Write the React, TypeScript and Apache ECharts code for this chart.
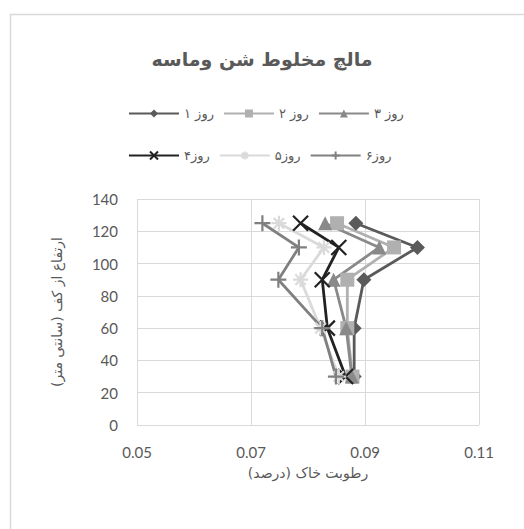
import React, { useEffect, useRef } from "react";
import * as echarts from "echarts";

const heights = [125, 110, 90, 60, 30];
const day1 = [0.0884, 0.0992, 0.0898, 0.0881, 0.0881];
const day2 = [0.0851, 0.0951, 0.0869, 0.0869, 0.0878];
const day3 = [0.083, 0.0925, 0.0845, 0.0867, 0.0877];
const day4 = [0.0787, 0.0854, 0.0825, 0.0834, 0.0866];
const day5 = [0.0749, 0.0828, 0.0787, 0.0822, 0.0854];
const day6 = [0.072, 0.0784, 0.0748, 0.0825, 0.0849];
const seriesNames = ["روز ۱", "روز ۲", "روز ۳", "روز۴", "روز۵", "روز۶"];
const seriesValues = [day1, day2, day3, day4, day5, day6];
const colors = ["#5a5a5a", "#b0b0b0", "#898989", "#222222", "#dadada", "#808080"];
const symbols = [
  "diamond",
  "rect",
  "triangle",
  "path://M0,0L10,10M10,0L0,10",
  "path://M5,0L5,10M0,5L10,5M1.5,1.5L8.5,8.5M8.5,1.5L1.5,8.5",
  "path://M5,0L5,10M0,5L10,5",
];
const symbolSizes = [15, 14, 14, 15, 15, 16];
const titleText = "مالچ مخلوط شن وماسه";
const xName = "رطوبت خاک (درصد)";
const yName = "ارتفاع از کف (سانتی متر)";

export default function App() {
  const ref = useRef<HTMLDivElement>(null);
  useEffect(() => {
    if (!ref.current) return;
    const chart = echarts.init(ref.current, null, { renderer: "svg" });
    const txt = "#595959";
    const series = seriesNames.map((name, i) => {
      const isPath = i >= 3;
      return {
        name,
        type: "line",
        data: seriesValues[i].map((v, j) => [v, heights[j]]),
        symbol: symbols[i],
        symbolSize: symbolSizes[i],
        lineStyle: { color: colors[i], width: 2.8 },
        itemStyle: isPath
          ? { color: colors[i], borderColor: colors[i], borderWidth: 2.2 }
          : { color: colors[i], borderWidth: 0 },
        emphasis: { disabled: true },
      };
    });
    chart.setOption({
      animation: false,
      backgroundColor: "#ffffff",
      title: {
        text: titleText,
        left: "center",
        top: 44,
        textStyle: {
          fontFamily: "DejaVu Sans",
          fontSize: 19,
          fontWeight: "bold",
          color: txt,
        },
      },
      graphic: [
        {
          type: "rect",
          shape: { x: 10.5, y: 14.5, width: 700, height: 700 },
          style: { fill: "none", stroke: "#d9d9d9", lineWidth: 1.5 },
          silent: true,
        },
      ],
      legend: [
        {
          data: seriesNames.slice(0, 3),
          left: 123,
          top: 102,
          itemWidth: 50,
          itemHeight: 10,
          itemGap: 9,
          textStyle: { fontFamily: "DejaVu Sans", fontSize: 13, color: txt },
        },
        {
          data: seriesNames.slice(3),
          left: 123,
          top: 144,
          itemWidth: 50,
          itemHeight: 10,
          itemGap: 9,
          textStyle: { fontFamily: "DejaVu Sans", fontSize: 13, color: txt },
        },
      ],
      grid: { left: 137, top: 199, width: 342, height: 226, containLabel: false },
      xAxis: {
        type: "value",
        min: 0.05,
        max: 0.11,
        interval: 0.02,
        name: xName,
        nameLocation: "middle",
        nameGap: 41,
        nameTextStyle: { fontFamily: "DejaVu Sans", fontSize: 14, color: txt },
        axisLine: { show: false },
        axisTick: { show: false },
        splitLine: { show: true, lineStyle: { color: "#d9d9d9", width: 1 } },
        axisLabel: {
          margin: 19,
          fontFamily: "Lato",
          fontSize: 15,
          color: txt,
          formatter: (v: number) => v.toFixed(2),
        },
      },
      yAxis: {
        type: "value",
        min: 0,
        max: 140,
        interval: 20,
        name: yName,
        nameLocation: "middle",
        nameGap: 73,
        nameRotate: 90,
        nameTextStyle: { fontFamily: "DejaVu Sans", fontSize: 14, color: txt },
        axisLine: { show: false },
        axisTick: { show: false },
        splitLine: { show: true, lineStyle: { color: "#d9d9d9", width: 1 } },
        axisLabel: { margin: 19, fontFamily: "Lato", fontSize: 15, color: txt },
      },
      series,
    });
    return () => chart.dispose();
  }, []);
  return (
    <div
      ref={ref}
      style={{ position: "fixed", left: 0, top: 0, width: 524, height: 529 }}
    />
  );
}
